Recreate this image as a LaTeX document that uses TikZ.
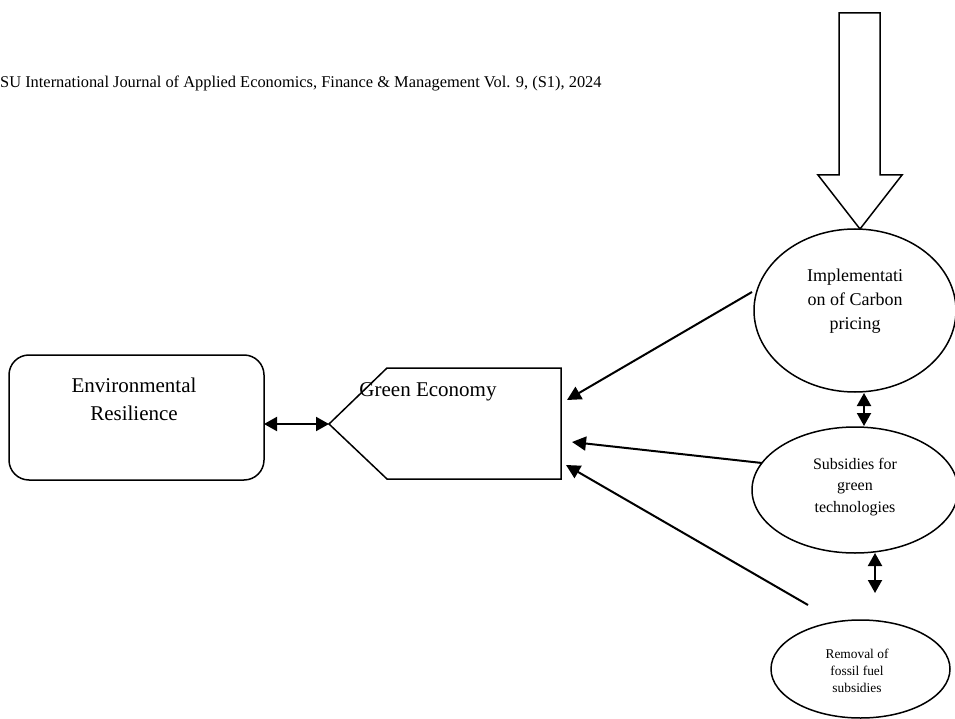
\documentclass[tikz,border=0pt]{standalone}
\usepackage{fontspec}
\setmainfont{Liberation Serif}
\usetikzlibrary{arrows.meta,shapes.geometric}
\begin{document}
\begin{tikzpicture}[x=1pt,y=-1pt,
  shapeline/.style={line width=1.5pt},
  conn/.style={line width=2pt,-{Triangle[length=14pt,width=14pt]}},
  dconn/.style={line width=2pt,{Triangle[length=13pt,width=14pt]}-{Triangle[length=13pt,width=14pt]}},
  oval/.style={draw,ellipse,line width=1.5pt,inner sep=0pt},
  lbl/.style={align=center,inner sep=0pt}]
\useasboundingbox (0,0) rectangle (955,719);
% header
\node[lbl,anchor=west,font=\fontsize{16.4}{19}\selectfont] (hdr) at (0,83)
  {SU International Journal of Applied Economics, Finance \& Management Vol. 9, (S1), 2024};
% big arrow
\draw[shapeline,line join=miter] (839,13) -- (880,13) -- (880,175) -- (902,175) -- (860,229)
  -- (818,175) -- (839,175) -- cycle;
% ellipses
\node[oval,minimum width=202pt,minimum height=163pt] (impl) at (855,310.5) {};
\node[oval,minimum width=206pt,minimum height=126pt] (subs) at (855,490) {};
\node[oval,minimum width=179pt,minimum height=98pt] (remov) at (860.5,669) {};
\node[lbl,font=\fontsize{18}{24}\selectfont] (impltxt) at (855,301) {Implementati\\on of Carbon\\pricing};
\node[lbl,font=\fontsize{16}{21.5}\selectfont] (substxt) at (855,487) {Subsidies for\\green\\technologies};
\node[lbl,font=\fontsize{13.4}{17}\selectfont] (removtxt) at (857,671) {Removal of\\fossil fuel\\subsidies};
% environmental resilience
\node[draw,line width=1.5pt,rounded corners=20pt,minimum width=255pt,minimum height=125pt,inner sep=0pt] (env) at (136.5,417.5) {};
\node[lbl,font=\fontsize{21}{28}\selectfont] (envtxt) at (134,399) {Environmental\\Resilience};
% green economy shape
\coordinate (geL) at (329,424);
\coordinate (geTL) at (387,368);
\coordinate (geTR) at (561,368);
\coordinate (geBR) at (561,479);
\coordinate (geBL) at (387,479);
\draw[shapeline,line join=miter] (geL) -- (geTL) -- (geTR) -- (geBR) -- (geBL) -- cycle;
\node[lbl,font=\fontsize{21}{26}\selectfont] (getxt) at (428,392) {Green Economy};
% connectors
\coordinate (envR) at (264,424);
\draw[dconn] (envR) -- (geL);
\coordinate (s1) at (752,292);
\coordinate (t1) at (567,400);
\coordinate (s2) at (762,463);
\coordinate (t2) at (572,442);
\coordinate (s3) at (808,605);
\coordinate (t3) at (566,465);
\draw[conn] (s1) -- (t1);
\draw[conn] (s2) -- (t2);
\draw[conn] (s3) -- (t3);
\coordinate (d1a) at (864,393);
\coordinate (d1b) at (864,426);
\draw[dconn] (d1a) -- (d1b);
\coordinate (d2a) at (875,553);
\coordinate (d2b) at (875,593);
\draw[dconn] (d2a) -- (d2b);
\end{tikzpicture}
\end{document}
